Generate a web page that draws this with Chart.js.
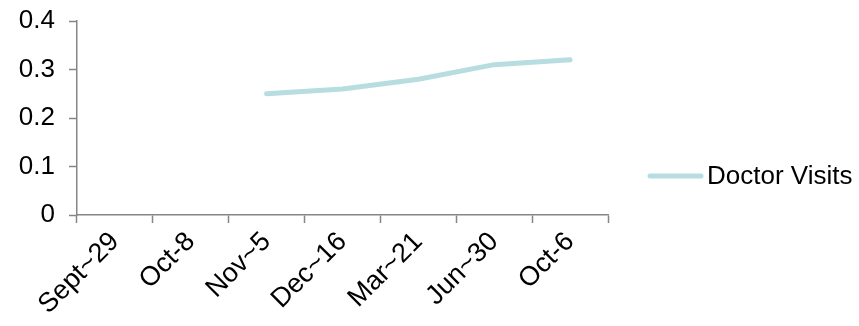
<!DOCTYPE html>
<html>
<head>
<meta charset="utf-8">
<style>
  html, body { margin: 0; padding: 0; background: #ffffff; }
  #wrap { width: 859px; height: 326px; position: relative; }
</style>
<script src="https://cdn.jsdelivr.net/npm/chart.js@4/dist/chart.umd.min.js"></script>
</head>
<body>
<div id="wrap"><canvas id="chart"></canvas></div>
<script>
// Visit dates along the x axis
const categories = ['Sept~29', 'Oct-8', 'Nov~5', 'Dec~16', 'Mar~21', 'Jun~30', 'Oct-6'];
// Doctor visit rate per date (no readings for the first two dates)
const doctorVisits = [null, null, 0.25, 0.26, 0.28, 0.31, 0.32];
const seriesName = 'Doctor Visits';
// Y axis range and step
const yMin = 0;
const yMax = 0.4;
const yStep = 0.1;

const FONT = '"Liberation Sans", Arial, sans-serif';
const AXIS_COLOR = '#868686';
const LINE_COLOR = 'rgb(183,221,224)';

// Legend drawn to the right of the plot: a short stroke followed by the series name
const sideLegend = {
  id: 'sideLegend',
  afterDraw(chart) {
    const ctx = chart.ctx;
    const ds = chart.data.datasets[0];
    const y = 176;
    ctx.save();
    ctx.strokeStyle = ds.borderColor;
    ctx.lineWidth = ds.borderWidth;
    ctx.lineCap = 'round';
    ctx.beginPath();
    ctx.moveTo(650, y);
    ctx.lineTo(701, y);
    ctx.stroke();
    ctx.fillStyle = '#000000';
    ctx.font = '26px ' + FONT;
    ctx.textAlign = 'left';
    ctx.textBaseline = 'middle';
    ctx.fillText(ds.label, 707, y + 1);
    ctx.restore();
  }
};

new Chart(document.getElementById('chart'), {
  type: 'line',
  data: {
    labels: categories,
    datasets: [{
      label: seriesName,
      data: doctorVisits,
      borderColor: LINE_COLOR,
      backgroundColor: LINE_COLOR,
      borderWidth: 5,
      borderCapStyle: 'round',
      borderJoinStyle: 'round',
      pointRadius: 0,
      pointHoverRadius: 0,
      tension: 0,
      spanGaps: false
    }]
  },
  options: {
    responsive: true,
    maintainAspectRatio: false,
    animation: false,
    events: [],
    layout: { padding: { left: 15, right: 251, top: 21, bottom: 0 } },
    plugins: {
      legend: { display: false },
      tooltip: { enabled: false }
    },
    scales: {
      x: {
        type: 'category',
        offset: true,
        grid: {
          offset: true,
          drawOnChartArea: false,
          drawTicks: true,
          tickLength: 8,
          tickWidth: 1.5,
          color: AXIS_COLOR
        },
        border: { display: true, color: AXIS_COLOR, width: 1.5 },
        ticks: {
          color: '#000000',
          font: { family: FONT, size: 27 },
          minRotation: 45,
          maxRotation: 45,
          padding: 3,
          autoSkip: false
        },
        afterFit(scale) { scale.height = 111; }
      },
      y: {
        min: yMin,
        max: yMax,
        grid: {
          drawOnChartArea: false,
          drawTicks: true,
          tickLength: 8,
          tickWidth: 1.5,
          color: AXIS_COLOR
        },
        border: { display: true, color: AXIS_COLOR, width: 1.5 },
        ticks: {
          stepSize: yStep,
          color: '#000000',
          font: { family: FONT, size: 26 },
          padding: 14,
          callback: (v) => (Math.round(v * 10) / 10).toString()
        },
        afterFit(scale) {
          scale.width = 62;
          scale.paddingTop = 0;
          scale.paddingBottom = 0;
        }
      }
    }
  },
  plugins: [sideLegend]
});
</script>
</body>
</html>
